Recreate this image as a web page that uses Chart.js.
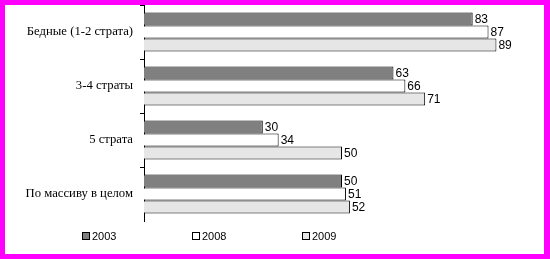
<!DOCTYPE html>
<html>
<head>
<meta charset="utf-8">
<script src="https://cdn.jsdelivr.net/npm/chart.js@4/dist/chart.umd.min.js"></script>
<style>
  html, body { margin: 0; padding: 0; background: #fff; }
  #frame {
    width: 550px; height: 259px; box-sizing: border-box;
    border: 5px solid #ff00ff; border-right-width: 6px;
    background: #fff;
  }
  #box { position: relative; width: 539px; height: 249px; }
</style>
</head>
<body>
<div id="frame"><div id="box"><canvas id="strata"></canvas></div></div>
<script>
const categories = ['Бедные (1-2 страта)', '3-4 страты', '5 страта', 'По массиву в целом'];
const years = ['2003', '2008', '2009'];
const values2003 = [83, 63, 30, 50];
const values2008 = [87, 66, 34, 51];
const values2009 = [89, 71, 50, 52];
const fills = ['#808080', '#ffffff', '#e6e6e6'];

// подписи значений справа от столбцов
const valueLabels = {
  id: 'valueLabels',
  afterDatasetsDraw(chart) {
    const ctx = chart.ctx;
    ctx.save();
    ctx.font = '12px "Liberation Sans", Arial, sans-serif';
    ctx.fillStyle = '#000';
    ctx.textBaseline = 'middle';
    chart.data.datasets.forEach((ds, i) => {
      chart.getDatasetMeta(i).data.forEach((bar, j) => {
        ctx.fillText(ds.data[j], bar.x + 2, bar.y + 1);
      });
    });
    ctx.restore();
  }
};

// легенда внизу, как в Excel
const bottomLegend = {
  id: 'bottomLegend',
  afterDraw(chart) {
    const ctx = chart.ctx;
    ctx.save();
    ctx.font = '11px "Liberation Sans", Arial, sans-serif';
    ctx.textBaseline = 'middle';
    chart.data.datasets.forEach((ds, i) => {
      const x = 77 + i * 110, y = 227;
      ctx.fillStyle = ds.backgroundColor;
      ctx.fillRect(x, y, 8, 8);
      ctx.strokeStyle = '#000';
      ctx.lineWidth = 1;
      ctx.strokeRect(x + 0.5, y + 0.5, 7, 7);
      ctx.fillStyle = '#000';
      ctx.fillText(ds.label, x + 10, y + 4.5);
    });
    ctx.restore();
  }
};

const ctx = document.getElementById('strata').getContext('2d');

new Chart(ctx, {
  type: 'bar',
  data: {
    labels: categories,
    datasets: [values2003, values2008, values2009].map((v, i) => ({
      label: years[i],
      data: v,
      backgroundColor: fills[i],
      borderColor: '#000',
      borderWidth: 1,
      categoryPercentage: 0.72,
      barPercentage: 1
    }))
  },
  options: {
    indexAxis: 'y',
    responsive: true,
    maintainAspectRatio: false,
    animation: false,
    devicePixelRatio: 1,
    layout: { padding: { left: 0, right: 4, top: 0, bottom: 33 } },
    scales: {
      x: { display: false, min: 0, max: 100 },
      y: {
        afterFit: s => { s.width = 139; s.paddingTop = 0; s.paddingBottom = 0; },
        grid: {
          drawOnChartArea: false,
          drawTicks: true,
          tickLength: 4,
          color: c => c.index === undefined ? 'rgba(0,0,0,0)' : '#000'
        },
        border: { display: true, color: '#000', width: 1 },
        ticks: {
          color: '#000',
          padding: 7,
          font: { family: '"Liberation Serif", "Times New Roman", serif', size: 12.7 }
        }
      }
    },
    plugins: {
      legend: { display: false },
      tooltip: { enabled: false }
    }
  },
  plugins: [valueLabels, bottomLegend]
});
</script>
</body>
</html>
